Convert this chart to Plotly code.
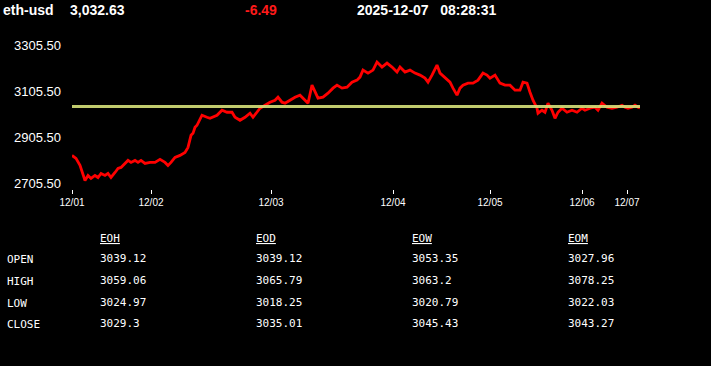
import plotly.graph_objects as go

# ---- data ----
symbol = "eth-usd"
last_price = "3,032.63"
change = "-6.49"
timestamp = "2025-12-07   08:28:31"
ref_level = 3039.12

bar_idx = [0, 4, 8, 11, 13, 16, 19, 23, 26, 29, 33, 36, 39, 43, 46, 49, 53, 56, 59, 63,
           66, 69, 73, 78, 83, 88, 93, 96, 99, 103, 108, 113, 116, 119, 121, 123, 125, 130, 135, 138,
           145, 150, 155, 160, 163, 168, 173, 178, 181, 188, 193, 198, 203, 206, 210, 213, 218, 223, 228, 233,
           236, 240, 243, 246, 251, 256, 261, 265, 270, 275, 280, 285, 288, 291, 296, 301, 305, 310, 315, 320,
           325, 328, 333, 338, 343, 348, 353, 356, 360, 365, 368, 373, 378, 381, 385, 388, 391, 396, 401, 406,
           411, 415, 418, 423, 428, 433, 438, 443, 448, 451, 455, 458, 461, 465, 466, 470, 473, 476, 480, 483,
           486, 490, 495, 500, 505, 510, 513, 518, 523, 526, 530, 535, 540, 545, 550, 553, 556, 560, 563, 566,
           568]
price = [2827.2, 2814.2, 2783.8, 2740.3, 2718.5, 2740.3, 2727.2, 2740.3, 2731.6, 2749.0, 2740.3, 2749.0, 2731.6, 2753.3, 2770.7, 2775.1, 2792.5, 2805.5, 2796.8, 2805.5,
         2796.8, 2805.5, 2792.5, 2796.8, 2796.8, 2809.9, 2796.8, 2783.8, 2796.8, 2818.5, 2827.2, 2840.3, 2862.0, 2914.2, 2922.9, 2949.0, 2957.7, 3001.2, 2992.5, 2988.1,
         3001.2, 3022.9, 3014.2, 3014.2, 2992.5, 2979.4, 2992.5, 3009.9, 2992.5, 3031.6, 3044.6, 3057.7, 3066.4, 3079.4, 3057.7, 3053.3, 3066.4, 3079.4, 3088.1, 3066.4,
         3053.3, 3131.6, 3101.2, 3075.1, 3079.4, 3096.8, 3118.6, 3131.6, 3118.6, 3122.9, 3144.6, 3153.3, 3166.4, 3196.8, 3183.8, 3196.8, 3231.6, 3209.9, 3227.3, 3209.9,
         3188.1, 3209.9, 3188.1, 3196.8, 3183.8, 3175.1, 3162.0, 3144.6, 3175.1, 3218.6, 3183.8, 3162.0, 3144.6, 3118.6, 3088.1, 3118.6, 3131.6, 3140.3, 3140.3, 3153.3,
         3183.8, 3175.1, 3162.0, 3175.1, 3140.3, 3131.6, 3131.6, 3109.9, 3109.9, 3144.6, 3140.3, 3101.2, 3066.4, 3031.6, 3009.9, 3022.9, 3014.2, 3053.3, 3022.9, 2988.1,
         3014.2, 3031.6, 3014.2, 3022.9, 3014.2, 3031.6, 3022.9, 3031.6, 3035.9, 3022.9, 3053.3, 3035.9, 3031.6, 3035.9, 3044.6, 3035.9, 3031.6, 3035.9, 3044.6, 3035.9,
         3032.63]

tick_idx = [0, 79, 199, 321, 418, 510, 555]
tick_labels = ["12/01", "12/02", "12/03", "12/04", "12/05", "12/06", "12/07"]
y_ticks = [2705.5, 2905.5, 3105.5, 3305.5]

col_headers = ["EOH", "EOD", "EOW", "EOM"]
row_labels = ["OPEN", "HIGH", "LOW", "CLOSE"]
eoh = ["3039.12", "3059.06", "3024.97", "3029.3"]
eod = ["3039.12", "3065.79", "3018.25", "3035.01"]
eow = ["3053.35", "3063.2", "3020.79", "3045.43"]
eom = ["3027.96", "3078.25", "3022.03", "3043.27"]
table_cols = [eoh, eod, eow, eom]

# ---- layout geometry ----
W, H = 711, 366
L, R, T, B = 72, 71, 40, 177
PW = W - L - R
PH = H - T - B


def px(x):
    return (x - 2 - L) / PW


def py(y):
    return (H - B - y) / PH


fig = go.Figure()
fig.add_trace(go.Scatter(x=bar_idx, y=price, mode="lines",
                         line=dict(color="#ff0000", width=2.8), hoverinfo="skip"))
fig.add_trace(go.Scatter(x=[bar_idx[0], bar_idx[-1]], y=[ref_level, ref_level], mode="lines",
                         line=dict(color="#d6e27a", width=3), opacity=0.9, hoverinfo="skip"))

ann = []
hdr_font = dict(family="Liberation Sans, Arial", size=14, color="white")
ann.append(dict(text="<b>" + symbol + "</b>", x=px(3), y=py(10), xanchor="left", yanchor="middle", font=hdr_font))
ann.append(dict(text="<b>" + last_price + "</b>", x=px(70), y=py(10), xanchor="left", yanchor="middle", font=hdr_font))
ann.append(dict(text="<b>" + change + "</b>", x=px(245), y=py(10), xanchor="left", yanchor="middle",
                font=dict(family="Liberation Sans, Arial", size=14, color="#ff1a1a")))
ann.append(dict(text="<b>" + timestamp.replace(" ", "&nbsp;") + "</b>", x=px(357), y=py(10), xanchor="left",
                yanchor="middle", font=hdr_font))

mono = dict(family="DejaVu Sans Mono, Liberation Mono, monospace", size=11, color="white")
col_x = [100, 256, 412, 568]
row_y = [259, 281, 303, 324]
for cx, h, vals in zip(col_x, col_headers, table_cols):
    ann.append(dict(text="<u>" + h + "</u>", x=px(cx), y=py(238), xanchor="left", yanchor="middle", font=mono))
    for ry, v in zip(row_y, vals):
        ann.append(dict(text=v, x=px(cx), y=py(ry - 1), xanchor="left", yanchor="middle", font=mono))
for ry, lab in zip(row_y, row_labels):
    ann.append(dict(text=lab, x=px(7), y=py(ry), xanchor="left", yanchor="middle", font=mono))

for a in ann:
    a.update(xref="paper", yref="paper", showarrow=False)

# y range: 2705.5 at y=183.5, 3305.5 at y=45
per_px = (3305.5 - 2705.5) / (183.5 - 45)
y0 = 2705.5 - (H - B - 183.5) * per_px
y1 = 3305.5 + (45 - T) * per_px

fig.update_layout(
    width=W, height=H,
    margin=dict(l=L, r=R, t=T, b=B, pad=0),
    paper_bgcolor="black", plot_bgcolor="black",
    showlegend=False,
    annotations=ann,
    xaxis=dict(range=[0, 568], tickmode="array", tickvals=tick_idx, ticktext=tick_labels,
               showgrid=False, zeroline=False, showline=False,
               ticks="outside", ticklen=4, tickwidth=1, tickcolor="white",
               tickfont=dict(family="Liberation Sans, Arial", size=10, color="white")),
    yaxis=dict(range=[y0, y1], tickmode="array", tickvals=y_ticks,
               ticktext=["%.2f" % v for v in y_ticks],
               showgrid=False, zeroline=False, showline=False, ticks="",
               ticklabelstandoff=10,
               tickfont=dict(family="Liberation Sans, Arial", size=13, color="white")),
)

fig.write_html("out.html", config={"displayModeBar": False})
